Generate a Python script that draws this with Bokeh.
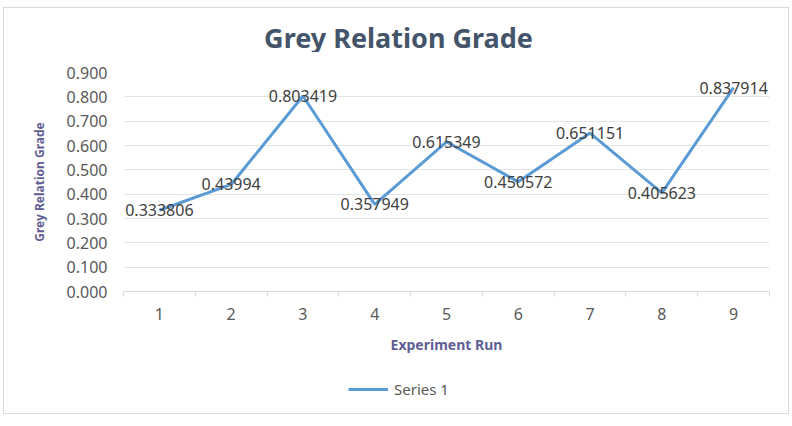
from bokeh.plotting import figure
from bokeh.layouts import column
from bokeh.models import Range1d, FixedTicker, NumeralTickFormatter, Legend, LegendItem, ColumnDataSource, Label
from bokeh.core.properties import value
from bokeh.embed import file_html
from bokeh.resources import INLINE

title_text = "Grey Relation Grade"
runs = [1, 2, 3, 4, 5, 6, 7, 8, 9]
grades = [0.333806, 0.43994, 0.803419, 0.357949, 0.615349, 0.450572, 0.651151, 0.405623, 0.837914]
labels = ["0.333806", "0.43994", "0.803419", "0.357949", "0.615349", "0.450572", "0.651151", "0.405623", "0.837914"]
y_ticks = [0.0, 0.1, 0.2, 0.3, 0.4, 0.5, 0.6, 0.7, 0.8, 0.9]
series_name = "Series 1"

FONT = "Noto Sans"
LINE_COLOR = "#5b9bd5"
src = ColumnDataSource(dict(x=runs, y=grades, t=labels))


def strip(height):
    s = figure(width=784, height=height, output_backend="svg", toolbar_location=None,
               x_axis_location=None, y_axis_location=None,
               min_border_left=0, min_border_right=0, min_border_top=0, min_border_bottom=0)
    s.grid.grid_line_color = None
    s.outline_line_color = None
    s.background_fill_color = "white"
    s.border_fill_color = "white"
    return s


# title strip: its frame is aligned with the chart frame (page pixels 123..769)
p0 = strip(44)
p0.x_range = Range1d(123, 769)
p0.y_range = Range1d(0, 44)
p0.add_layout(Label(x=398, y=15, text=title_text, text_align="center", text_baseline="middle",
                    text_font=FONT, text_font_size="27px", text_font_style="bold",
                    text_color="#44546a"))

p = figure(width=784, height=318, output_backend="svg", toolbar_location=None,
           x_range=Range1d(0.5, 9.5), y_range=Range1d(0, 0.9),
           min_border_left=119, min_border_right=19, min_border_top=20, min_border_bottom=79)
p.outline_line_color = None
p.background_fill_color = "white"
p.border_fill_color = "white"

# y axis
p.yaxis.ticker = FixedTicker(ticks=y_ticks)
p.yaxis.formatter = NumeralTickFormatter(format="0.000")
p.yaxis.axis_line_color = None
p.yaxis.major_tick_line_color = None
p.yaxis.minor_tick_line_color = None
p.yaxis.major_label_text_font = FONT
p.yaxis.major_label_text_font_size = "16px"
p.yaxis.major_label_text_color = "#595959"
p.yaxis.major_label_standoff = 10
p.yaxis.axis_label = "Grey Relation Grade"
p.yaxis.axis_label_text_font = FONT
p.yaxis.axis_label_text_font_size = "12px"
p.yaxis.axis_label_text_font_style = "bold"
p.yaxis.axis_label_text_color = "#605e94"
p.yaxis.axis_label_standoff = 16

# x axis
p.xaxis.ticker = FixedTicker(ticks=runs, minor_ticks=[0.5 + i for i in range(10)])
p.xaxis.axis_line_color = "#d9d9d9"
p.xaxis.major_tick_line_color = None
p.xaxis.minor_tick_line_color = "#d9d9d9"
p.xaxis.minor_tick_in = 0
p.xaxis.minor_tick_out = 5
p.xaxis.major_label_text_font = FONT
p.xaxis.major_label_text_font_size = "16px"
p.xaxis.major_label_text_color = "#595959"
p.xaxis.major_label_standoff = 10
p.xaxis.axis_label = "Experiment Run"
p.xaxis.axis_label_text_font = FONT
p.xaxis.axis_label_text_font_size = "14px"
p.xaxis.axis_label_text_font_style = "bold"
p.xaxis.axis_label_text_color = "#605e94"
p.xaxis.axis_label_standoff = 12

p.xgrid.grid_line_color = None
p.ygrid.ticker = FixedTicker(ticks=y_ticks)
p.ygrid.grid_line_color = "#e3e3e3"
p.ygrid.grid_line_width = 1

line = p.line("x", "y", source=src, line_color=LINE_COLOR, line_width=3)
p.text("x", "y", text="t", source=src, text_align="center", text_baseline="middle",
       text_font=value(FONT), text_font_size="16px", text_color="#404040")

# legend strip below the chart (its line lies outside this strip's visible range)
p2 = strip(43)
p2.x_range = Range1d(0.5, 9.5)
p2.y_range = Range1d(5, 6)
key = p2.line("x", "y", source=src, line_color=LINE_COLOR, line_width=3)

legend = Legend(items=[LegendItem(label=series_name, renderers=[key])],
                location=(225, 14), orientation="horizontal",
                label_text_font=FONT, label_text_font_size="15px", label_text_color="#595959",
                border_line_color=None, background_fill_alpha=0, glyph_width=40,
                label_standoff=6, padding=2, margin=0)
p2.add_layout(legend, "center")

layout = column(p0, p, p2, spacing=0,
                styles={"margin-left": "4px", "margin-top": "8px", "outline": "1px solid #d9d9d9"})

open("out.html", "w").write(file_html(layout, INLINE))
